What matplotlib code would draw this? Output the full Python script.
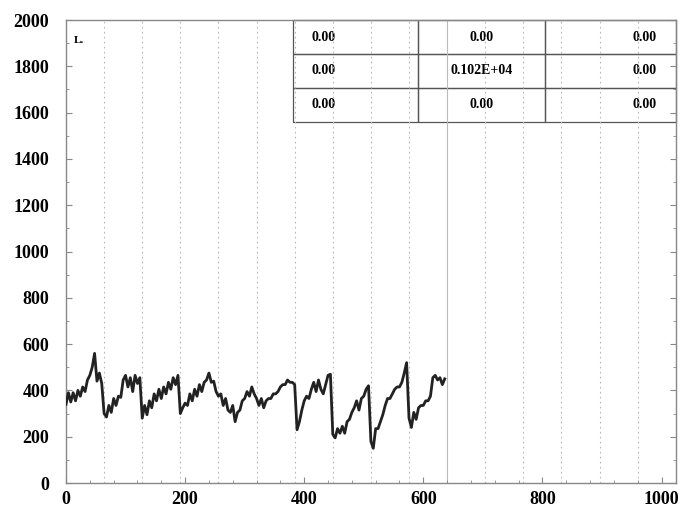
import numpy as np
import matplotlib
matplotlib.use('Agg')
import matplotlib.pyplot as plt
from matplotlib.ticker import MultipleLocator

# Recorded signal, one reading every 4 samples (0 .. 636)
step = 4
signal = [
    340, 390, 350, 390, 355, 400, 375, 415, 395, 445, 465, 500, 560, 440, 475, 430,
    300, 285, 335, 305, 365, 335, 375, 370, 445, 465, 415, 455, 395, 465, 430, 455,
    280, 335, 295, 355, 325, 385, 355, 405, 365, 415, 385, 435, 405, 455, 425, 465,
    300, 325, 345, 335, 385, 355, 405, 375, 425, 395, 435, 445, 475, 435, 440, 395,
    375, 385, 335, 365, 315, 305, 335, 265, 305, 315, 355, 365, 395, 375, 415, 385,
    365, 335, 365, 325, 355, 365, 365, 385, 385, 395, 415, 425, 425, 445, 435, 435,
    425, 230, 265, 315, 355, 375, 365, 405, 435, 395, 445, 405, 385, 425, 465, 470,
    210, 195, 235, 215, 245, 215, 265, 275, 305, 325, 355, 315, 365, 375, 405, 420,
    180, 150, 235, 235, 265, 295, 335, 365, 365, 385, 405, 415, 415, 435, 475, 520,
    280, 240, 305, 275, 325, 335, 335, 355, 355, 375, 455, 465, 445, 455, 425, 450,
]
samples = np.arange(len(signal)) * step
cursor = 640

# Readout table in the top right corner
table_rows = [
    ['0.00', '0.00', '0.00'],
    ['0.00', '0.102E+04', '0.00'],
    ['0.00', '0.00', '0.00'],
]
col_align = ['left', 'center', 'right']

x_ticks = [0, 200, 400, 600, 800, 1000]
y_ticks = list(range(0, 2001, 200))

fig = plt.figure(figsize=(6.84, 5.14), dpi=100)
ax = fig.add_axes([0.0965, 0.0603, 0.8915, 0.9007])

# dotted vertical grid every 64 samples, solid line at the cursor
for gx in range(64, 1024, 64):
    if gx == cursor:
        ax.axvline(gx, color='#bbbbbb', lw=0.8, zorder=1)
    else:
        ax.axvline(gx, color='#b8b8b8', lw=0.8, ls=(0, (1.5, 3)), zorder=1)

ax.plot(samples, signal, color='#222222', lw=2.0, zorder=3)

ax.set_xlim(0, 1024)
ax.set_ylim(0, 2000)
ax.set_xticks(x_ticks)
ax.set_yticks(y_ticks)
ax.xaxis.set_minor_locator(MultipleLocator(40))
ax.yaxis.set_minor_locator(MultipleLocator(100))
ax.tick_params(which='both', direction='in', color='#888888', top=False, right=True)
ax.tick_params(which='major', length=4, width=0.8)
ax.tick_params(which='minor', length=2.5, width=0.6)
ax.tick_params(axis='y', labelright=False, pad=12)
ax.tick_params(axis='x', pad=6)
for lab in ax.get_xticklabels() + ax.get_yticklabels():
    lab.set_fontfamily('Liberation Serif')
    lab.set_fontweight('bold')
    lab.set_fontsize(13)
for s in ax.spines.values():
    s.set_color('#888888')
    s.set_linewidth(1.0)

ax.text(0.012, 0.965, 'L.', transform=ax.transAxes, fontsize=8,
        fontweight='bold', family='Liberation Serif', va='top')

tbl = ax.table(cellText=table_rows, bbox=[0.372, 0.78, 0.628, 0.22],
               colWidths=[125, 127, 131])
tbl.auto_set_font_size(False)
for (r, c), cell in tbl.get_celld().items():
    cell.set_facecolor('none')
    cell.set_edgecolor('#555555')
    cell.set_linewidth(0.9)
    cell.get_text().set_fontsize(10)
    cell.get_text().set_fontfamily('Liberation Serif')
    cell.get_text().set_fontweight('bold')
    cell._loc = col_align[c]
    cell.PAD = 0.15
    cell.get_text().set_horizontalalignment(col_align[c])

fig.savefig('out.png', dpi=100)
